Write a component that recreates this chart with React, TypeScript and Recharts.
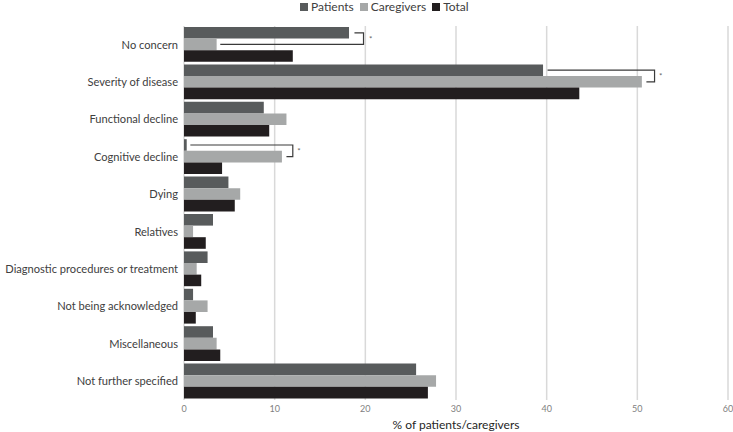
import React from "react";
import { BarChart, Bar, XAxis, YAxis, CartesianGrid, Rectangle } from "recharts";

const categories = [
  "No concern",
  "Severity of disease",
  "Functional decline",
  "Cognitive decline",
  "Dying",
  "Relatives",
  "Diagnostic procedures or treatment",
  "Not being acknowledged",
  "Miscellaneous",
  "Not further specified",
];
const patients = [18.2, 39.6, 8.8, 0.3, 4.9, 3.2, 2.6, 1.0, 3.2, 25.6];
const caregivers = [3.6, 50.5, 11.3, 10.8, 6.2, 1.0, 1.4, 2.6, 3.6, 27.8];
const total = [12.0, 43.6, 9.4, 4.2, 5.6, 2.4, 1.9, 1.3, 4.0, 26.9];
const xTicks = [0, 10, 20, 30, 40, 50, 60];

// significance brackets, in % units: patients-end, right edge, caregivers-end, star
const brackets: Record<string, { from: number; right: number; to: number; star: number }> = {
  "No concern": { from: 18.8, right: 19.8, to: 4.0, star: 20.4 },
  "Severity of disease": { from: 40.1, right: 51.9, to: 51.0, star: 52.4 },
  "Cognitive decline": { from: 0.7, right: 12.0, to: 11.3, star: 12.5 },
};

const COLORS = { patients: "#585b5c", caregivers: "#a6a8a8", total: "#221e1f" };
const FONT = "Lato, 'Open Sans', sans-serif";

const data = categories.map((name, i) => ({
  name,
  patients: patients[i],
  caregivers: caregivers[i],
  total: total[i],
}));

// caregivers bar + the bracket joining it to the patients bar above
const CaregiverShape = (props: any) => {
  const { x, y, width, height, payload, value } = props;
  const b = brackets[payload.name];
  const v = Array.isArray(value) ? value[1] : value;
  const k = v ? width / v : 0;
  return (
    <g>
      <Rectangle x={x} y={y} width={width} height={height} fill={COLORS.caregivers} />
      {b && (
        <g>
          <polyline
            points={`${x + b.from * k},${y - height / 2} ${x + b.right * k},${y - height / 2} ${x + b.right * k},${y + height / 2} ${x + b.to * k},${y + height / 2}`}
            fill="none"
            stroke="#3a3a3a"
            strokeWidth={1.2}
          />
          <text x={x + b.star * k} y={y + 3} fontSize={8} fill="#666" fontFamily={FONT}>
            *
          </text>
        </g>
      )}
    </g>
  );
};

// single-line category label (no wrapping)
const CategoryTick = ({ x, y, payload }: any) => (
  <text x={x} y={y} dy="0.35em" textAnchor="end" fontSize={11.1} fill="#404040" fontFamily={FONT}>
    {payload.value}
  </text>
);

const legendItems = [
  { label: "Patients", color: COLORS.patients },
  { label: "Caregivers", color: COLORS.caregivers },
  { label: "Total", color: COLORS.total },
];

export default function App() {
  return (
    <div style={{ position: "relative", width: 733, height: 432, background: "#fff" }}>
      <style>{`body{margin:0}`}</style>
      <div
        style={{
          position: "absolute",
          top: 0,
          left: 300,
          display: "flex",
          alignItems: "center",
          gap: 6,
          fontFamily: FONT,
          fontSize: 12,
          color: "#404040",
          lineHeight: "13px",
        }}
      >
        {legendItems.map((it) => (
          <span key={it.label} style={{ display: "flex", alignItems: "center", gap: 3 }}>
            <span style={{ display: "inline-block", width: 8, height: 8, background: it.color }} />
            {it.label}
          </span>
        ))}
      </div>
      <BarChart
        width={733}
        height={432}
        data={data}
        layout="vertical"
        margin={{ top: 26, right: 5, bottom: 0, left: 0 }}
        barGap={0}
        barSize={11.6}
      >
        <CartesianGrid horizontal={false} stroke="#d9d9d9" strokeWidth={1.5} />
        <XAxis
          type="number"
          domain={[0, 60]}
          ticks={xTicks}
          axisLine={false}
          tickLine={false}
          tickSize={4}
          tickMargin={2}
          height={32}
          tick={{ fontSize: 9, fill: "#7f7f7f", fontFamily: FONT }}
          label={{
            value: "% of patients/caregivers",
            position: "insideBottom",
            offset: 3,
            style: { fontSize: 12, fill: "#262626", fontFamily: FONT },
          }}
        />
        <YAxis
          type="category"
          dataKey="name"
          width={184}
          axisLine={false}
          tickLine={false}
          tickSize={0}
          tickMargin={6}
          interval={0}
          tick={<CategoryTick />}
        />
        <Bar dataKey="patients" name="Patients" fill={COLORS.patients} isAnimationActive={false} />
        <Bar
          dataKey="caregivers"
          name="Caregivers"
          fill={COLORS.caregivers}
          shape={CaregiverShape}
          isAnimationActive={false}
        />
        <Bar dataKey="total" name="Total" fill={COLORS.total} isAnimationActive={false} />
      </BarChart>
    </div>
  );
}
